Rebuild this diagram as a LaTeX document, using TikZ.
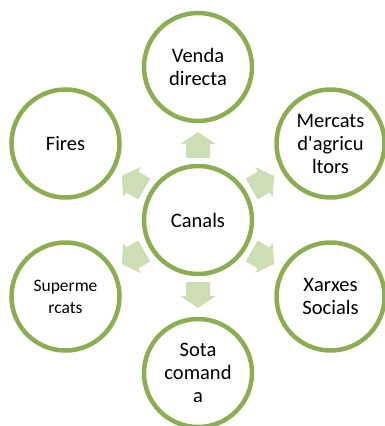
\documentclass[tikz,border=0pt]{standalone}
\usepackage{fontspec}
\setmainfont{Carlito}[Ligatures=TeXOff]
\usetikzlibrary{calc}
\definecolor{ringgreen}{HTML}{8CAD52}
\definecolor{arrowfill}{HTML}{CDDDB4}
\begin{document}
\begin{tikzpicture}[x=1pt,y=1pt,
  ring/.style={circle,draw=ringgreen,line width=4.5pt,fill=white,minimum size=108pt,inner sep=0pt,align=center,text=black,font={\fontsize{20.5}{23}\selectfont}},
  smalltext/.style={font={\fontsize{17.5}{22}\selectfont}},
  outarrow/.pic={\path[fill=arrowfill] (-13,-12) -- (1,-12) -- (1,-17.5) -- (13,0) -- (1,17.5) -- (1,12) -- (-13,12) -- cycle;}
]
\useasboundingbox (0,0) rectangle (385,-426);
\coordinate (C) at (198,-220);
\node[ring] (canals) at (C) {Canals};
\node[ring] (venda) at ($(C)+(90:153pt)$) {Venda\\directa};
\node[ring] (mercats) at ($(C)+(30:153pt)$) {Mercats\\d'agricu\\ltors};
\node[ring] (xarxes) at ($(C)+(-30:153pt)$) {Xarxes\\Socials};
\node[ring] (sota) at ($(C)+(-90:153pt)$) {Sota\\comand\\a};
\node[ring,smalltext] (super) at ($(C)+(-150:153pt)$) {Superme\\rcats};
\node[ring] (fires) at ($(C)+(150:153pt)$) {Fires};
\foreach \a in {90,30,-30,-90,-150,150}{
  \pic[rotate=\a] at ($(C)+(\a:75pt)$) {outarrow};
}
\end{tikzpicture}
\end{document}
